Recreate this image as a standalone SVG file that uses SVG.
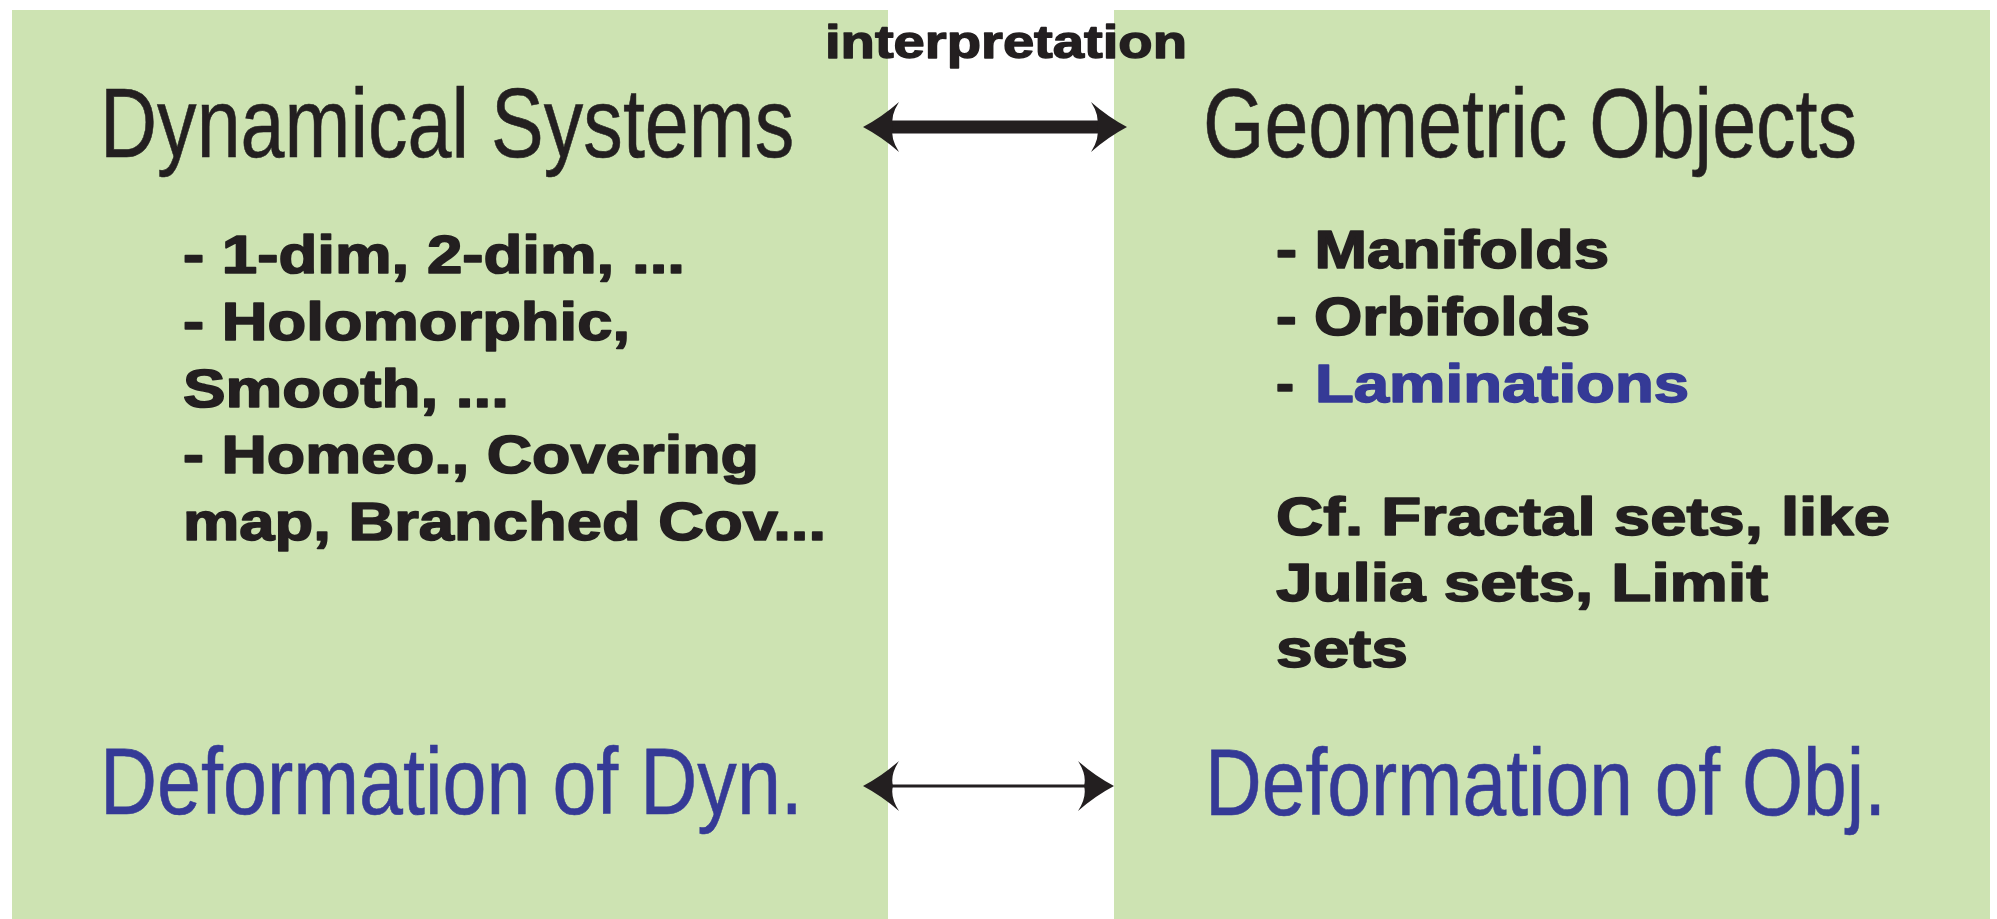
<svg xmlns="http://www.w3.org/2000/svg" width="1997" height="919" viewBox="0 0 1997 919">
<style>
.panel{fill:#CDE3B2}
.title{font-family:"Liberation Sans",Arial,sans-serif;font-size:98px;fill:#231F20;stroke:#231F20;stroke-width:0.6px}
.deform{font-family:"Liberation Sans",Arial,sans-serif;font-size:95px;fill:#353A96;stroke:#353A96;stroke-width:0.6px}
.item{font-family:"Liberation Sans",Arial,sans-serif;font-weight:bold;font-size:54px;fill:#231F20;stroke:#231F20;stroke-width:1.6px;stroke-linejoin:round}
.blue{fill:#353A96;stroke:#353A96}
.label{font-family:"Liberation Sans",Arial,sans-serif;font-weight:bold;font-size:47px;fill:#231F20;stroke:#231F20;stroke-width:1.4px;stroke-linejoin:round}
.conn{stroke:#231F20;fill:none}
</style>
<defs>
<marker id="head" markerUnits="userSpaceOnUse" viewBox="0 0 37 50" markerWidth="37" markerHeight="50" refX="8" refY="25" orient="auto-start-reverse">
<path d="M37,25 Q18,15 1,0 Q10,14 7,25 Q10,36 1,50 Q18,35 37,25 Z" fill="#231F20"/>
</marker>
</defs>
<rect width="1997" height="919" fill="#FFFFFF"/>
<g id="left-panel">
<rect class="panel" x="12" y="10" width="876" height="909"/>
</g>
<g id="right-panel">
<rect class="panel" x="1114" y="10" width="876" height="909"/>
</g>
<g id="dynamical-systems">
<text class="title" transform="translate(100,157) scale(0.807,1)" x="0" y="0">Dynamical Systems</text>
</g>
<g id="geometric-objects">
<text class="title" transform="translate(1203,157) scale(0.806,1)" x="0" y="0">Geometric Objects</text>
</g>
<g id="dyn-list">
<text class="item" x="183" y="273" textLength="502" lengthAdjust="spacingAndGlyphs">- 1-dim, 2-dim, ...</text>
<text class="item" x="183" y="340" textLength="447" lengthAdjust="spacingAndGlyphs">- Holomorphic,</text>
<text class="item" x="183" y="407" textLength="326" lengthAdjust="spacingAndGlyphs">Smooth, ...</text>
<text class="item" x="183" y="473" textLength="576" lengthAdjust="spacingAndGlyphs">- Homeo., Covering</text>
<text class="item" x="183" y="540" textLength="643" lengthAdjust="spacingAndGlyphs">map, Branched Cov...</text>
</g>
<g id="obj-list">
<text class="item" x="1276" y="268" textLength="333" lengthAdjust="spacingAndGlyphs">- Manifolds</text>
<text class="item" x="1276" y="335" textLength="314" lengthAdjust="spacingAndGlyphs">- Orbifolds</text>
<text class="item" x="1276" y="402">-</text>
<text class="item blue" x="1315" y="402" textLength="374" lengthAdjust="spacingAndGlyphs">Laminations</text>
<text class="item" x="1276" y="535" textLength="614" lengthAdjust="spacingAndGlyphs">Cf. Fractal sets, like</text>
<text class="item" x="1276" y="601" textLength="492" lengthAdjust="spacingAndGlyphs">Julia sets, Limit</text>
<text class="item" x="1276" y="667" textLength="132" lengthAdjust="spacingAndGlyphs">sets</text>
</g>
<g id="deformation-dyn">
<text class="deform" transform="translate(100,814) scale(0.832,1)" x="0" y="0">Deformation of Dyn.</text>
</g>
<g id="deformation-obj">
<text class="deform" transform="translate(1205,815) scale(0.827,1)" x="0" y="0">Deformation of Obj.</text>
</g>
<g id="connectors">
<line class="conn" x1="892" y1="127" x2="1098" y2="127" stroke-width="13" marker-start="url(#head)" marker-end="url(#head)"/>
<text class="label" x="825" y="58" textLength="362" lengthAdjust="spacingAndGlyphs">interpretation</text>
<line class="conn" x1="892" y1="786" x2="1085" y2="786" stroke-width="3" marker-start="url(#head)" marker-end="url(#head)"/>
</g>
</svg>
